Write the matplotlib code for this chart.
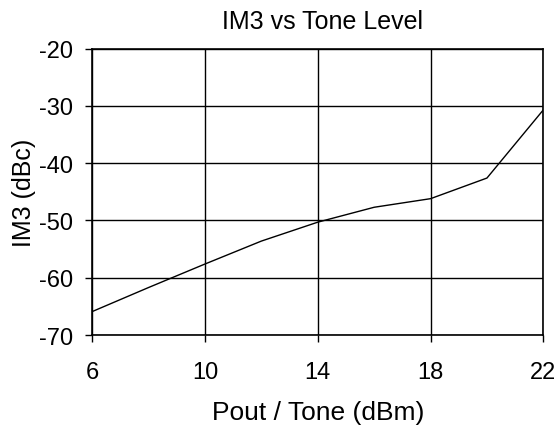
import matplotlib
matplotlib.use("Agg")
import matplotlib.pyplot as plt

pout_dbm = [6, 8, 10, 12, 14, 16, 18, 20, 22]
im3_dbc = [-65.9, -61.7, -57.6, -53.6, -50.3, -47.7, -46.2, -42.6, -30.7]

x_ticks = [6, 10, 14, 18, 22]
y_ticks = [-70, -60, -50, -40, -30, -20]

plt.rcParams['font.family'] = ['Liberation Sans', 'DejaVu Sans']

fig = plt.figure(figsize=(5.59, 4.27), dpi=100)
ax = fig.add_axes([0.165, 0.213, 0.807, 0.671])

ax.plot(pout_dbm, im3_dbc, color='black', linewidth=1.0, zorder=3)
ax.set_xlim(6, 22)
ax.set_ylim(-70, -20)
ax.set_xticks(x_ticks)
ax.set_yticks(y_ticks)
ax.set_xticklabels([str(v) for v in x_ticks])
ax.set_yticklabels([str(v) for v in y_ticks])
ax.grid(True, color='black', linewidth=1.0)
ax.set_axisbelow(True)
for s in ax.spines.values():
    s.set_linewidth(1.2)
ax.tick_params(axis='both', direction='out', length=5, width=1.0, labelsize=17)
ax.tick_params(axis='x', pad=14)
ax.tick_params(axis='y', pad=9)

ax.set_title('IM3 vs Tone Level', fontsize=18, pad=15, x=0.51)
ax.set_xlabel('Pout / Tone (dBm)', fontsize=19, labelpad=12)
ax.set_ylabel('IM3 (dBc)', fontsize=18, labelpad=2)

fig.savefig('out.png', dpi=100)
